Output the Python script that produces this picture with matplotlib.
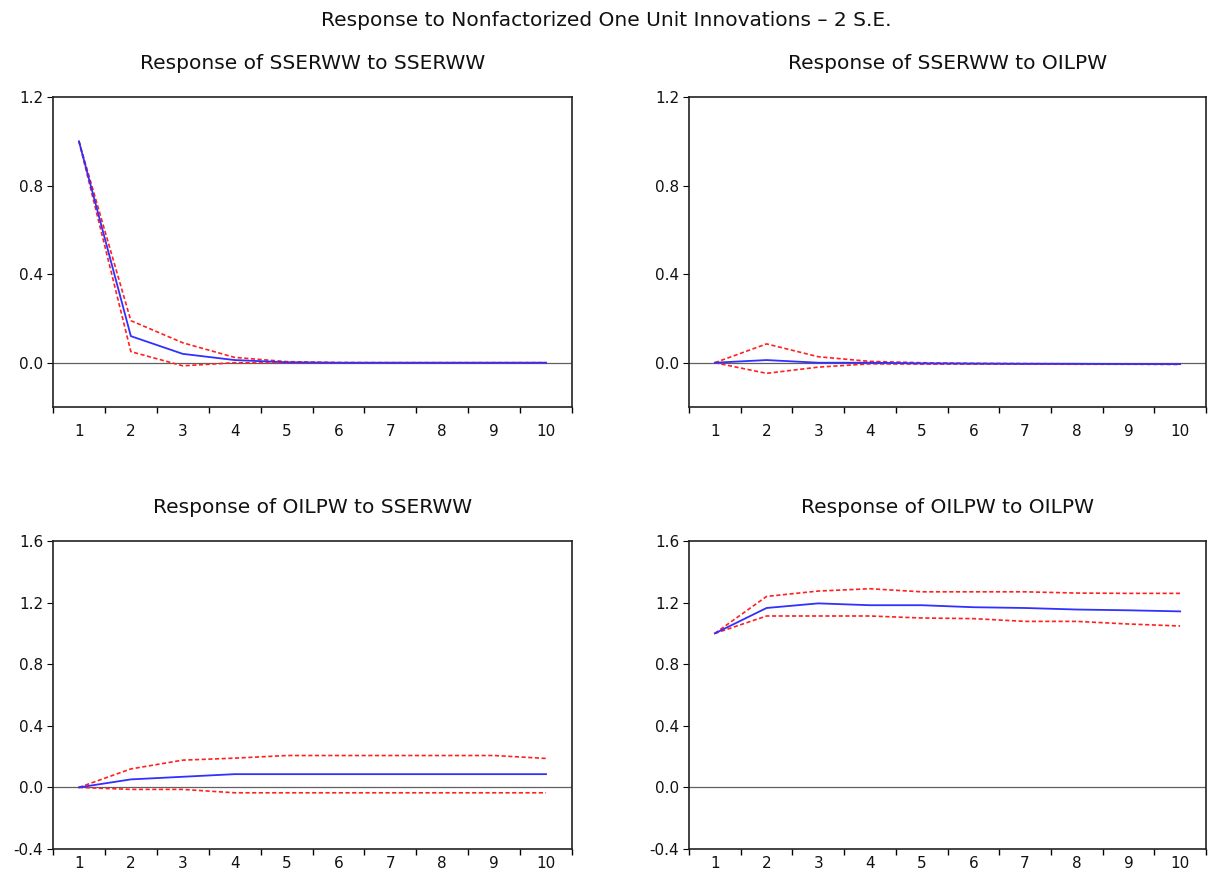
import numpy as np
import matplotlib
matplotlib.use("Agg")
import matplotlib.pyplot as plt

plt.rcParams['font.family'] = ['DejaVu Sans']

periods = [1, 2, 3, 4, 5, 6, 7, 8, 9, 10]

# Response of SSERWW to SSERWW
r11 = [1.0, 0.12, 0.04, 0.012, 0.002, 0.0, 0.0, 0.0, 0.0, 0.0]
r11_hi = [1.0, 0.19, 0.09, 0.024, 0.005, 0.001, 0.0, 0.0, 0.0, 0.0]
r11_lo = [1.0, 0.05, -0.014, 0.0, -0.002, -0.001, 0.0, 0.0, 0.0, 0.0]

# Response of SSERWW to OILPW
r12 = [0.0, 0.012, 0.0, 0.0, -0.003, -0.004, -0.005, -0.005, -0.006, -0.006]
r12_hi = [0.0, 0.085, 0.027, 0.006, 0.0, -0.003, -0.004, -0.005, -0.005, -0.006]
r12_lo = [0.0, -0.048, -0.02, -0.005, -0.006, -0.006, -0.006, -0.007, -0.007, -0.008]

# Response of OILPW to SSERWW
r21 = [0.0, 0.052, 0.069, 0.086, 0.086, 0.086, 0.086, 0.086, 0.086, 0.086]
r21_hi = [0.0, 0.12, 0.177, 0.19, 0.207, 0.207, 0.207, 0.207, 0.207, 0.188]
r21_lo = [0.0, -0.013, -0.013, -0.035, -0.035, -0.035, -0.035, -0.035, -0.035, -0.035]

# Response of OILPW to OILPW
r22 = [1.0, 1.165, 1.195, 1.183, 1.183, 1.17, 1.165, 1.155, 1.15, 1.143]
r22_hi = [1.0, 1.24, 1.275, 1.29, 1.27, 1.27, 1.27, 1.262, 1.26, 1.26]
r22_lo = [1.0, 1.113, 1.113, 1.113, 1.1, 1.096, 1.078, 1.078, 1.061, 1.048]

titles = ["Response of SSERWW to SSERWW", "Response of SSERWW to OILPW",
          "Response of OILPW to SSERWW", "Response of OILPW to OILPW"]
series = [(r11, r11_hi, r11_lo), (r12, r12_hi, r12_lo),
          (r21, r21_hi, r21_lo), (r22, r22_hi, r22_lo)]
ylims = [(-0.2, 1.2), (-0.2, 1.2), (-0.4, 1.6), (-0.4, 1.6)]
yticks = [[0.0, 0.4, 0.8, 1.2], [0.0, 0.4, 0.8, 1.2],
          [-0.4, 0.0, 0.4, 0.8, 1.2, 1.6], [-0.4, 0.0, 0.4, 0.8, 1.2, 1.6]]

W, H = 1212, 880
fig = plt.figure(figsize=(W / 100, H / 100), dpi=100)

# axes boxes in pixels: left, top, right, bottom
boxes = [(53, 97, 572, 407), (689, 97, 1206, 407),
         (53, 541, 572, 849), (689, 541, 1206, 849)]
xpads = [12, 12, 5, 5]

fig.text(606 / W, 1 - 20 / H, "Response to Nonfactorized One Unit Innovations \u2013 2 S.E.",
         ha="center", va="center", fontsize=14.5, color="#111111")

for i in range(4):
    l, t, r, b = boxes[i]
    ax = fig.add_axes([l / W, 1 - b / H, (r - l) / W, (b - t) / H])
    mid, hi, lo = series[i]
    ax.axhline(0, color="#606060", lw=0.9, zorder=1)
    ax.plot(periods, hi, color="#ff2020", lw=1.2, ls=(0, (2.5, 1.5)), zorder=2)
    ax.plot(periods, lo, color="#ff2020", lw=1.2, ls=(0, (2.5, 1.5)), zorder=2)
    ax.plot(periods, mid, color="#3030ff", lw=1.3, zorder=3)
    ax.set_xlim(0.5, 10.5)
    ax.set_ylim(*ylims[i])
    ax.set_yticks(yticks[i])
    ax.set_yticklabels(["%.1f" % v for v in yticks[i]])
    ax.set_xticks(np.arange(0.5, 11, 1.0))
    ax.set_xticklabels([])
    ax.set_xticks(periods, minor=True)
    ax.set_xticklabels([str(p) for p in periods], minor=True)
    ax.tick_params(axis="x", which="minor", length=0, pad=xpads[i], labelsize=11,
                   labelcolor="#111111")
    ax.tick_params(axis="x", which="major", length=4, direction="out", width=1)
    ax.tick_params(axis="y", length=4, direction="out", labelsize=11, pad=3,
                   labelcolor="#111111")
    for s in ax.spines.values():
        s.set_linewidth(1.2)
        s.set_color("#222222")
    ax.set_title(titles[i], fontsize=14.5, pad=20, color="#111111")

fig.savefig("out.png", dpi=100)
